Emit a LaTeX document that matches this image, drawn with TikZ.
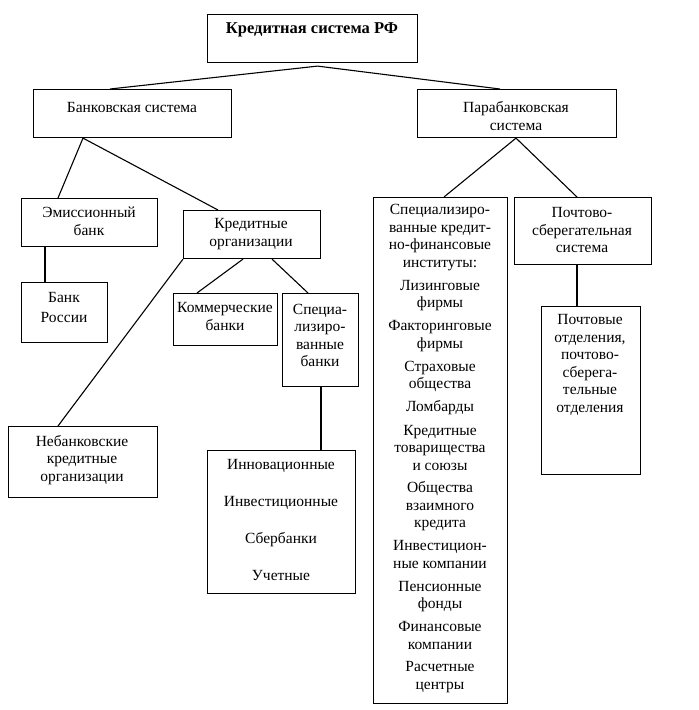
\documentclass[tikz,border=0pt]{standalone}
\usepackage{fontspec}
\setmainfont{Liberation Serif}
\usetikzlibrary{calc}
\begin{document}
\begin{tikzpicture}[x=1pt,y=-1pt,
  box/.style={draw, line width=1.1pt, rectangle, inner sep=0pt, anchor=north west},
  txt/.style={align=center, inner sep=0pt, font=\fontsize{15.5}{17.5}\selectfont},
  conn/.style={line width=1.1pt}]
\useasboundingbox (0,0) rectangle (699,710);
% boxes
\node[box, minimum width=210pt, minimum height=48pt] (top) at (207,14) {};
\node[box, minimum width=198pt, minimum height=48pt] (bank) at (33,89) {};
\node[box, minimum width=199pt, minimum height=48pt] (para) at (417,89) {};
\node[box, minimum width=136pt, minimum height=48pt] (emis) at (21,198) {};
\node[box, minimum width=137pt, minimum height=48pt] (kred) at (183,210) {};
\node[box, minimum width=86pt, minimum height=60pt] (bnkr) at (21,282) {};
\node[box, minimum width=104pt, minimum height=52pt] (comm) at (173,293) {};
\node[box, minimum width=76pt, minimum height=93pt] (spec) at (282,293) {};
\node[box, minimum width=148pt, minimum height=143pt] (innov) at (207,450) {};
\node[box, minimum width=149pt, minimum height=71pt] (nonb) at (8,426) {};
\node[box, minimum width=134pt, minimum height=506pt] (sfi) at (373,197) {};
\node[box, minimum width=137pt, minimum height=67pt] (post) at (514,197) {};
\node[box, minimum width=99pt, minimum height=168pt] (pbo) at (541,306) {};
% texts
\node[txt, font=\fontsize{16.5}{17.5}\selectfont\bfseries] (ttop) at (312,30) {Кредитная система РФ};
\node[txt] (tbank) at (132,107) {Банковская система};
\node[txt] (tpara) at (516,116) {Парабанковская\\система};
\node[txt] (temis) at (89,221.5) {Эмиссионный\\банк};
\node[txt] (tkred) at (251,234) {Кредитные\\организации};
\node[txt, font=\fontsize{15.5}{20}\selectfont] (tbnkr) at (64,307) {Банк\\России};
\node[txt] (tcomm) at (225,316.5) {Коммерческие\\банки};
\node[txt] (tspec) at (320,335.5) {Специа-\\лизиро-\\ванные\\банки};
\node[txt] (tinnov) at (281,520) {Инновационные\\[19.5pt]Инвестиционные\\[19.5pt]Сбербанки\\[19.5pt]Учетные};
\node[txt] (tnonb) at (82,460) {Небанковские\\кредитные\\организации};
\node[txt] (tsfi) at (440,448.5) {Специализиро-\\ванные кредит-\\но-финансовые\\институты:\\[5.5pt]
Лизинговые\\фирмы\\[5.5pt]Факторинговые\\фирмы\\[5.5pt]Страховые\\общества\\[5.5pt]Ломбарды\\[6pt]
Кредитные\\товарищества\\и союзы\\[5pt]Общества\\взаимного\\кредита\\[5.5pt]Инвестицион-\\ные компании\\[5.5pt]
Пенсионные\\фонды\\[5.5pt]Финансовые\\компании\\[5pt]Расчетные\\центры};
\node[txt] (tpost) at (582,230) {Почтово-\\сберегательная\\система};
\node[txt] (tpbo) at (590,365) {Почтовые\\отделения,\\почтово-\\сберега-\\тельные\\отделения};
% connectors
\coordinate (j0) at ([xshift=5pt,yshift=-3pt]top.south);
\draw[conn] ([xshift=77pt]bank.north west) -- (j0) -- ([xshift=83pt]para.north west);
\draw[conn] ([xshift=37pt]emis.north west) -- ([xshift=50pt]bank.south west) -- ([xshift=35pt]kred.north west);
\draw[conn] ([xshift=24pt]emis.south west) -- ([xshift=24pt]bnkr.north west);
\draw[conn] ([xshift=60pt]kred.south west) -- ([xshift=24pt]comm.north west);
\draw[conn] ([xshift=89pt]kred.south west) -- ([xshift=26pt]spec.north west);
\draw[conn] (kred.south west) -- ([xshift=50pt]nonb.north west);
\draw[conn] ([xshift=39pt]spec.south west) -- ([xshift=114pt]innov.north west);
\draw[conn] ([xshift=71pt]sfi.north west) -- ([xshift=99pt]para.south west) -- ([xshift=63pt]post.north west);
\draw[conn] ([xshift=63pt]post.south west) -- ([xshift=36pt]pbo.north west);
\end{tikzpicture}
\end{document}
